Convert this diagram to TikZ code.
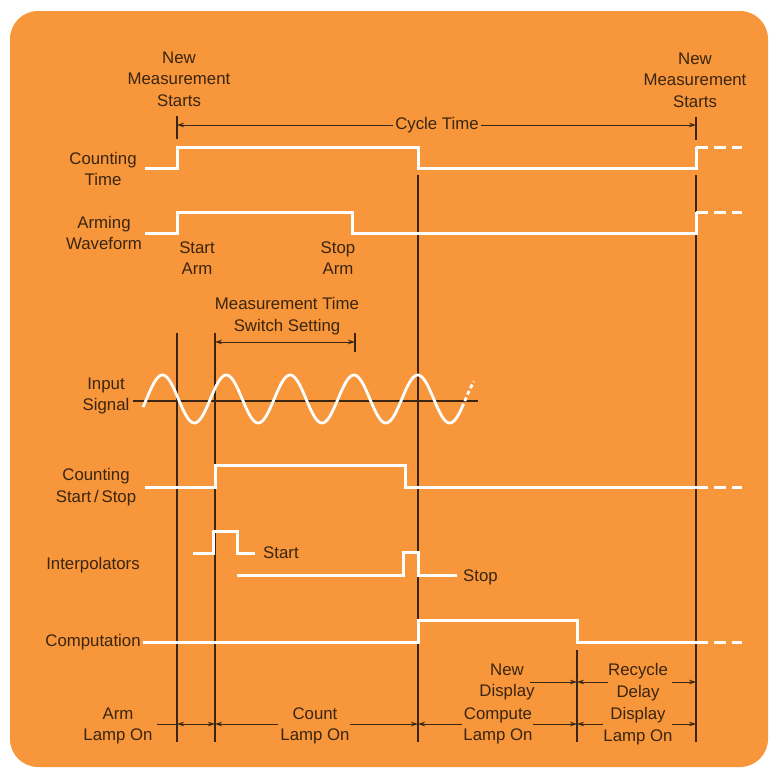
\documentclass[tikz,border=0pt]{standalone}
\usepackage{fontspec}
\setmainfont{Liberation Sans}
\usetikzlibrary{arrows.meta}
\definecolor{bg}{RGB}{247,150,58}
\definecolor{ink}{RGB}{58,37,16}
\begin{document}
\begin{tikzpicture}[x=1pt,y=-1pt,
  lbl/.style={text=ink, font=\fontsize{16.8}{21.5}\selectfont, align=center, inner sep=0pt},
  wave/.style={white, line width=3pt, line join=miter},
  tail/.style={white, line width=3pt, dash pattern=on 12pt off 6pt},
  guide/.style={ink, line width=1.1pt},
  dim/.style={ink, line width=1pt, -{Stealth[length=7pt,width=4.5pt]}},
  ddim/.style={ink, line width=1pt, {Stealth[length=7pt,width=4.5pt]}-{Stealth[length=7pt,width=4.5pt]}}]
\useasboundingbox (0,0) rectangle (770,769);
\fill[white] (0,0) rectangle (770,769);
\fill[bg, rounded corners=28pt] (10,11) rectangle (768,767);

% labels
\node[lbl] (nms1) at (179,79) {New\\Measurement\\Starts};
\node[lbl] (nms2) at (695,80) {New\\Measurement\\Starts};
\node[lbl, inner sep=2pt] (cyc) at (437,125) {Cycle Time};
\node[lbl] (ct) at (103,169) {Counting\\Time};
\node[lbl] (aw) at (104,233) {Arming\\Waveform};
\node[lbl] (sa) at (197,258) {Start\\Arm};
\node[lbl] (so) at (338,258) {Stop\\Arm};
\node[lbl] (mt) at (287,316) {Measurement Time\\Switch Setting};
\node[lbl] (is) at (106,396) {Input\\Signal};
\node[lbl] (cs) at (96,487) {Counting\\Start\,/\,Stop};
\node[lbl] (ip) at (93,565) {Interpolators};
\node[lbl] (cp) at (93,642) {Computation};
\node[lbl, anchor=west] (st) at (263,553) {Start};
\node[lbl, anchor=west] (sp) at (463,577) {Stop};
\node[lbl] (al) at (118,726) {Arm\\Lamp On};
\node[lbl] (cl) at (315,726) {Count\\Lamp On};
\node[lbl] (nd) at (507,682) {New\\Display};
\node[lbl] (rd) at (638,682) {Recycle\\Delay};
\node[lbl] (cml) at (498,726) {Compute\\Lamp On};
\node[lbl] (dl) at (638,726) {Display\\Lamp On};

% time marks
\draw[guide] (177,116) -- (177,139);
\draw[guide] (696,117) -- (696,140);
\draw[guide] (177,333) -- (177,742);
\draw[guide] (215,333) -- (215,742);
\draw[guide] (418,175) -- (418,742);
\draw[guide] (577,650) -- (577,742);
\draw[guide] (696,175) -- (696,742);
\draw[guide] (355,333) -- (355,352);

% cycle time
\draw[dim] (cyc.west) -- (177,125);
\draw[dim] (cyc.east) -- (696,125);
% measurement time bracket
\draw[ddim] (215,342) -- (355,342);

% input signal
\draw[guide] (133,401) -- (478,401);
\draw[white, line width=2.8pt] plot[domain=143:462, samples=220, smooth] (\x,{399-24*sin(5.64*(\x-146.5))});
\draw[white, line width=2.8pt, dash pattern=on 4pt off 3pt] plot[domain=462:474, samples=20, smooth] (\x,{399-24*sin(5.64*(\x-146.5))});

% waveforms
\draw[wave] (145,168) -| (177,147) -| (418,168) -| (696,147);
\draw[tail] (696,147) -- (742,147);
\draw[wave] (145,233) -| (177,212) -| (352,233) -| (696,212);
\draw[tail] (696,212) -- (742,212);
\draw[wave] (145,487) -| (215,465) -| (405,487) -- (696,487);
\draw[tail] (696,487) -- (742,487);
\draw[wave] (193,553) -| (213,531) -| (237,553) -- (255,553);
\draw[wave] (237,575) -| (403,552) -| (418,575) -- (457,575);
\draw[wave] (143,642) -| (418,620) -| (577,642) -- (696,642);
\draw[tail] (696,642) -- (742,642);

% lamp dimensions
\draw[ink, line width=1pt] (157,724) -- (177,724);
\draw[ddim] (177,724) -- (215,724);
\draw[dim] (278,724) -- (215,724);
\draw[dim] (350,724) -- (418,724);
\draw[dim] (462,724) -- (418,724);
\draw[dim] (533,724) -- (577,724);
\draw[dim] (603,724) -- (577,724);
\draw[dim] (672,724) -- (696,724);
\draw[dim] (530,682) -- (577,682);
\draw[dim] (608,682) -- (577,682);
\draw[dim] (672,682) -- (696,682);
\end{tikzpicture}
\end{document}
